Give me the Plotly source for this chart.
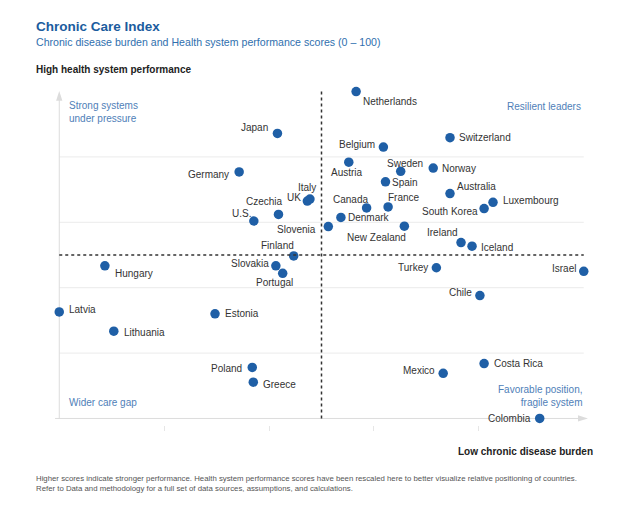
import plotly.graph_objects as go

# chronic disease burden score (x) and health system performance score (y)
countries = ["Netherlands", "Japan", "Switzerland", "Belgium", "Austria", "Sweden",
             "Norway", "Germany", "Spain", "Australia", "Italy", "UK", "Luxembourg",
             "South Korea", "Canada", "France", "Czechia", "Denmark", "U.S.", "Slovenia",
             "New Zealand", "Ireland", "Iceland", "Finland", "Hungary", "Slovakia",
             "Turkey", "Israel", "Portugal", "Chile", "Latvia", "Estonia", "Lithuania",
             "Poland", "Greece", "Costa Rica", "Mexico", "Colombia"]
burden = [56.6, 41.6, 74.5, 61.8, 55.2, 65.1,
          71.3, 34.3, 62.2, 74.5, 47.8, 47.3, 82.7,
          81.0, 58.6, 62.7, 41.8, 53.7, 37.1, 51.3,
          65.8, 76.6, 78.7, 44.7, 8.7, 41.3,
          71.9, 100.0, 42.6, 80.2, 0.0, 29.7, 10.4,
          36.8, 37.0, 81.0, 73.2, 91.6]
performance = [100.0, 87.2, 85.9, 83.0, 78.4, 75.6,
               76.6, 75.4, 72.4, 68.8, 67.1, 66.5, 66.1,
               64.2, 64.4, 64.7, 62.4, 61.5, 60.4, 58.7,
               58.8, 53.8, 52.7, 49.7, 46.7, 46.7,
               46.1, 45.0, 44.4, 37.6, 32.6, 32.0, 26.7,
               15.6, 11.1, 16.8, 13.8, 0.0]

# label placement: anchor, dx, dy (px from the dot, dy down)
placement = {
    "Netherlands": ("left", 5, 10), "Japan": ("right", -7, -6),
    "Switzerland": ("left", 7, 0), "Belgium": ("right", -6, -3),
    "Austria": ("center", -2, 10), "Sweden": ("center", 4, -8),
    "Norway": ("left", 7, 0), "Germany": ("right", -8, 2.5),
    "Spain": ("left", 5, 1), "Australia": ("left", 5, -7),
    "Italy": ("center", -3, -12), "UK": ("right", -4, -4),
    "Luxembourg": ("left", 8, -2), "South Korea": ("right", -4, 3),
    "Canada": ("right", 3, -8), "France": ("left", -2, -9),
    "Czechia": ("right", 7, -12.5), "Denmark": ("left", 5, 0),
    "U.S.": ("right", -1, -8), "Slovenia": ("right", -10, 3),
    "New Zealand": ("right", 4, 11), "Ireland": ("right", -1, -10),
    "Iceland": ("left", 7, 1), "Finland": ("right", 2, -10),
    "Hungary": ("left", 8, 8), "Slovakia": ("right", -5, -2),
    "Turkey": ("right", -6, 0), "Israel": ("right", -6, -3),
    "Portugal": ("center", -8, 9), "Chile": ("right", -6, -3),
    "Latvia": ("left", 8, -2), "Estonia": ("left", 8, 0),
    "Lithuania": ("left", 8, 1), "Poland": ("right", -8, 1),
    "Greece": ("left", 8, 2), "Costa Rica": ("left", 8, 0),
    "Mexico": ("right", -6, -3), "Colombia": ("right", -7, 0),
}

# the page puts the figure 8px in from the top left corner
OFF = 8
W, H = 630, 511
ML, MR, MT, MB = 54 - OFF, 41 + OFF, 85 - OFF, 86 + OFF
PW, PH = W - ML - MR, H - MT - MB

def px(x):
    return (x - OFF - ML) / PW

def py(y):
    return (H - MB - (y - OFF)) / PH

DOT = "#1f5fa6"
QUAD = "#4f80b8"
AXIS = "#dcdcdc"
FONT = "Liberation Sans, Arial, sans-serif"

fig = go.Figure()

fig.add_trace(go.Scatter(
    x=burden, y=performance, mode="markers",
    marker=dict(size=9.5, color=DOT),
    hovertext=countries, hoverinfo="text", showlegend=False,
))

shapes = []
for g in [20, 40, 60, 80]:
    shapes.append(dict(type="line", xref="x", yref="y", x0=0, x1=100, y0=g, y1=g,
                       line=dict(color="#ebebeb", width=1), layer="below"))
# axes with arrow heads, kept under the dots
shapes.append(dict(type="line", xref="x", yref="y", x0=-0.8, x1=99.5, y0=0, y1=0,
                   line=dict(color=AXIS, width=1), layer="below"))
shapes.append(dict(type="path", xref="x", yref="y", layer="below",
                   path="M 100.8 0 L 98.9 0.95 L 98.9 -0.95 Z",
                   fillcolor=AXIS, line=dict(width=0)))
shapes.append(dict(type="line", xref="x", yref="y", x0=0, x1=0, y0=0, y1=98,
                   line=dict(color=AXIS, width=1), layer="below"))
shapes.append(dict(type="path", xref="x", yref="y", layer="below",
                   path="M 0 100.2 L -0.6 97.2 L 0.6 97.2 Z",
                   fillcolor=AXIS, line=dict(width=0)))
shapes.append(dict(type="line", xref="x", yref="y", x0=50, x1=50, y0=0, y1=100.5,
                   line=dict(color="#333333", width=1.5, dash="dot")))
shapes.append(dict(type="line", xref="x", yref="y", x0=0, x1=100, y0=50, y1=50,
                   line=dict(color="#333333", width=1.5, dash="dot")))

ann = []
for c, xv, yv in zip(countries, burden, performance):
    anchor, dx, dy = placement[c]
    ann.append(dict(x=xv, y=yv, xref="x", yref="y", text=c, showarrow=False,
                    xanchor=anchor, yanchor="middle", xshift=dx, yshift=-dy,
                    font=dict(family=FONT, size=10, color="#333333")))

ann += [
    dict(x=px(34), y=py(27), text="<b>Chronic Care Index</b>",
         font=dict(family=FONT, size=13.5, color="#1b5c9e")),
    dict(x=px(34), y=py(42), text="Chronic disease burden and Health system performance scores (0 – 100)",
         font=dict(family=FONT, size=10.6, color="#2f6fae")),
    dict(x=px(34), y=py(70), text="<b>High health system performance</b>",
         font=dict(family=FONT, size=10, color="#222222")),
    dict(x=px(67), y=py(112), text="Strong systems<br>under pressure",
         font=dict(family=FONT, size=10, color=QUAD)),
    dict(x=px(67), y=py(402), text="Wider care gap",
         font=dict(family=FONT, size=10, color=QUAD)),
]
for a in ann[-5:]:
    a.update(xref="paper", yref="paper", xanchor="left", yanchor="middle",
             showarrow=False, align="left")

ann += [
    dict(x=px(583), y=py(106), text="Resilient leaders",
         font=dict(family=FONT, size=10, color=QUAD)),
    dict(x=px(585), y=py(396), text="Favorable position,<br>fragile system",
         font=dict(family=FONT, size=10, color=QUAD)),
    dict(x=px(595), y=py(451), text="<b>Low chronic disease burden</b>",
         font=dict(family=FONT, size=10, color="#222222")),
]
for a in ann[-3:]:
    a.update(xref="paper", yref="paper", xanchor="right", yanchor="middle",
             showarrow=False, align="right")

ann.append(dict(
    x=px(34), y=py(483), xref="paper", yref="paper", xanchor="left", yanchor="middle",
    showarrow=False, align="left",
    text="Higher scores indicate stronger performance. Health system performance scores have been "
         "rescaled here to better visualize relative positioning of countries.<br>"
         "Refer to Data and methodology for a full set of data sources, assumptions, and calculations.",
    font=dict(family=FONT, size=7.8, color="#555555")))

fig.update_layout(
    width=W, height=H,
    margin=dict(l=ML, r=MR, t=MT, b=MB),
    paper_bgcolor="white", plot_bgcolor="white",
    font=dict(family=FONT),
    shapes=shapes, annotations=ann,
    xaxis=dict(range=[-1, 101], showgrid=False, zeroline=False, showline=False,
               tickvals=[20, 40, 60, 80], ticks="outside", ticklen=5,
               tickcolor="#e6e6e6", showticklabels=False, fixedrange=True),
    yaxis=dict(range=[-2, 102], showgrid=False, zeroline=False, showline=False,
               showticklabels=False, fixedrange=True),
)

fig.write_html("out.html")
